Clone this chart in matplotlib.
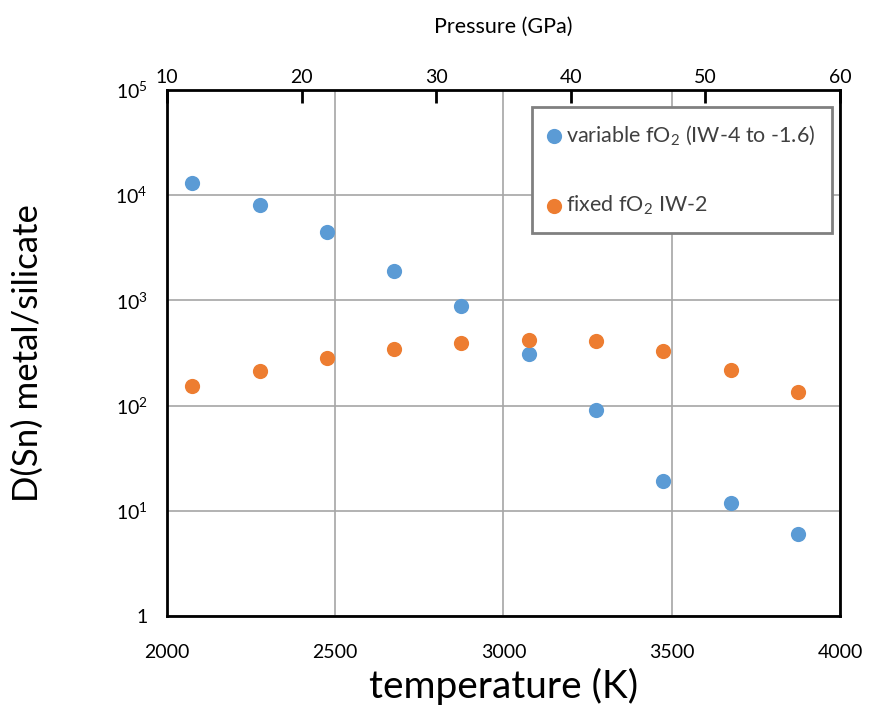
import math
import matplotlib
matplotlib.use("Agg")
import matplotlib.pyplot as plt
from matplotlib.ticker import FixedLocator, FuncFormatter

plt.rcParams['font.family'] = ['Lato', 'DejaVu Sans']
plt.rcParams['mathtext.fontset'] = 'custom'
plt.rcParams['mathtext.rm'] = 'Lato'
plt.rcParams['mathtext.it'] = 'Lato:italic'
plt.rcParams['mathtext.bf'] = 'Lato:bold'

# Temperatures (K) of each run
temperature = [2075, 2275, 2475, 2675, 2875, 3075, 3275, 3475, 3675, 3875]
# D(Sn) metal/silicate, variable fO2 (IW-4 to -1.6)
d_variable = [13000, 8100, 4450, 1900, 880, 310, 91, 19.2, 11.9, 6.0]
# D(Sn) metal/silicate, fixed fO2 at IW-2
d_fixed = [154, 213, 283, 345, 394, 421, 411, 330, 218, 135]

temp_ticks = [2000, 2500, 3000, 3500, 4000]
pressure_ticks = [10, 20, 30, 40, 50, 60]
y_ticks = [1, 10, 100, 1000, 10000, 100000]

blue = '#5B9BD5'
orange = '#ED7D31'
grid_c = '#A6A6A6'

fig = plt.figure(figsize=(8.71, 7.24), dpi=100)
ax = fig.add_axes([0.1917, 0.1492, 0.7727, 0.7265])

ax.scatter(temperature, d_variable, s=120, color=blue, zorder=3,
           label=r'variable fO$_\mathregular{2}$ (IW-4 to -1.6)', linewidths=0)
ax.scatter(temperature, d_fixed, s=120, color=orange, zorder=3,
           label=r'fixed fO$_\mathregular{2}$ IW-2', linewidths=0)

ax.set_yscale('log')
ax.set_xlim(2000, 4000)
ax.set_ylim(1, 1e5)
ax.xaxis.set_major_locator(FixedLocator(temp_ticks))
ax.yaxis.set_major_locator(FixedLocator(y_ticks))
ax.yaxis.set_minor_locator(FixedLocator([]))


def fmt_pow(v, pos):
    if v == 1:
        return '1'
    e = int(round(math.log10(v)))
    return r'$\mathregular{10^{%d}}$' % e


ax.yaxis.set_major_formatter(FuncFormatter(fmt_pow))
ax.grid(True, which='major', color=grid_c, linewidth=1.2, zorder=0)
ax.set_axisbelow(True)
ax.tick_params(axis='both', length=0, labelsize=14, colors='black')
ax.tick_params(axis='x', pad=20)
ax.tick_params(axis='y', pad=14)
for sp in ax.spines.values():
    sp.set_linewidth(2)
    sp.set_color('black')

ax.set_xlabel('temperature (K)', fontsize=28)
ax.xaxis.set_label_coords(0.5, -0.098)
ax.set_ylabel('D(Sn) metal/silicate', fontsize=25)
ax.yaxis.set_label_coords(-0.183, 0.5)

# Pressure scale along the top
top = ax.twiny()
top.set_xlim(10, 60)
top.xaxis.set_major_locator(FixedLocator(pressure_ticks))
top.tick_params(axis='x', direction='in', length=9, width=2, labelsize=14, pad=3)
top.set_xlabel('Pressure (GPa)', fontsize=15.5, labelpad=26)
for sp in top.spines.values():
    sp.set_visible(False)

leg = ax.legend(loc='upper left', bbox_to_anchor=(0.542, 0.968),
                fontsize=15.5, frameon=True, fancybox=False,
                handletextpad=0.25, labelspacing=2.2, borderpad=0.75,
                borderaxespad=0, scatterpoints=1, handlelength=0.6)
leg.get_frame().set_edgecolor('#808080')
leg.get_frame().set_linewidth(2)
leg.get_frame().set_alpha(1)
for t in leg.get_texts():
    t.set_color('#404040')

fig.savefig('out.png', dpi=100)
